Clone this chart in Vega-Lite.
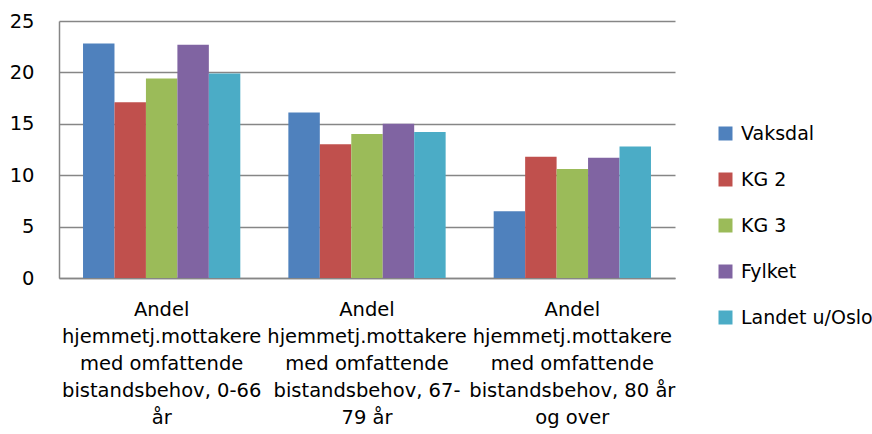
{
  "$schema": "https://vega.github.io/schema/vega-lite/v6.json",
  "width": 616,
  "height": 257,
  "autosize": {"type": "none"},
  "padding": {"left": 59, "top": 21, "right": 197, "bottom": 156},
  "background": "white",
  "config": {"view": {"stroke": null}, "font": "DejaVu Sans"},
  "data": {
    "values": [
      {"kategori": "Andel|hjemmetj.mottakere|med omfattende|bistandsbehov, 0-66|år", "serie": "Vaksdal", "verdi": 22.8},
      {"kategori": "Andel|hjemmetj.mottakere|med omfattende|bistandsbehov, 0-66|år", "serie": "KG 2", "verdi": 17.1},
      {"kategori": "Andel|hjemmetj.mottakere|med omfattende|bistandsbehov, 0-66|år", "serie": "KG 3", "verdi": 19.4},
      {"kategori": "Andel|hjemmetj.mottakere|med omfattende|bistandsbehov, 0-66|år", "serie": "Fylket", "verdi": 22.7},
      {"kategori": "Andel|hjemmetj.mottakere|med omfattende|bistandsbehov, 0-66|år", "serie": "Landet u/Oslo", "verdi": 19.9},
      {"kategori": "Andel|hjemmetj.mottakere|med omfattende|bistandsbehov, 67-|79 år", "serie": "Vaksdal", "verdi": 16.1},
      {"kategori": "Andel|hjemmetj.mottakere|med omfattende|bistandsbehov, 67-|79 år", "serie": "KG 2", "verdi": 13.0},
      {"kategori": "Andel|hjemmetj.mottakere|med omfattende|bistandsbehov, 67-|79 år", "serie": "KG 3", "verdi": 14.0},
      {"kategori": "Andel|hjemmetj.mottakere|med omfattende|bistandsbehov, 67-|79 år", "serie": "Fylket", "verdi": 15.0},
      {"kategori": "Andel|hjemmetj.mottakere|med omfattende|bistandsbehov, 67-|79 år", "serie": "Landet u/Oslo", "verdi": 14.2},
      {"kategori": "Andel|hjemmetj.mottakere|med omfattende|bistandsbehov, 80 år|og over", "serie": "Vaksdal", "verdi": 6.5},
      {"kategori": "Andel|hjemmetj.mottakere|med omfattende|bistandsbehov, 80 år|og over", "serie": "KG 2", "verdi": 11.8},
      {"kategori": "Andel|hjemmetj.mottakere|med omfattende|bistandsbehov, 80 år|og over", "serie": "KG 3", "verdi": 10.6},
      {"kategori": "Andel|hjemmetj.mottakere|med omfattende|bistandsbehov, 80 år|og over", "serie": "Fylket", "verdi": 11.7},
      {"kategori": "Andel|hjemmetj.mottakere|med omfattende|bistandsbehov, 80 år|og over", "serie": "Landet u/Oslo", "verdi": 12.8}
    ]
  },
  "mark": {"type": "bar"},
  "encoding": {
    "x": {
      "field": "kategori",
      "type": "nominal",
      "sort": null,
      "scale": {"paddingInner": 0.234, "paddingOuter": 0.117},
      "axis": {
        "title": null,
        "labelAngle": 0,
        "labelExpr": "split(datum.label, '|')",
        "labelFontSize": 19.5,
        "labelLineHeight": 27,
        "labelColor": "#000000",
        "labelLimit": 0,
        "labelPadding": 22,
        "labelBaseline": "top",
        "ticks": false,
        "domainColor": "#868686",
        "domainWidth": 1.5
      }
    },
    "xOffset": {
      "field": "serie",
      "type": "nominal",
      "sort": ["Vaksdal", "KG 2", "KG 3", "Fylket", "Landet u/Oslo"],
      "scale": {"paddingInner": 0, "paddingOuter": 0}
    },
    "y": {
      "field": "verdi",
      "type": "quantitative",
      "scale": {"domain": [0, 25], "nice": false},
      "axis": {
        "title": null,
        "values": [0, 5, 10, 15, 20, 25],
        "labelFontSize": 19.5,
        "labelColor": "#000000",
        "labelPadding": 25,
        "ticks": false,
        "domainColor": "#868686",
        "domainWidth": 1.5,
        "gridColor": "#868686",
        "gridWidth": 1.5
      }
    },
    "color": {
      "field": "serie",
      "type": "nominal",
      "scale": {
        "domain": ["Vaksdal", "KG 2", "KG 3", "Fylket", "Landet u/Oslo"],
        "range": ["#4F81BD", "#C0504D", "#9BBB59", "#8064A2", "#4BACC6"]
      },
      "legend": {
        "title": null,
        "orient": "none",
        "legendX": 657,
        "legendY": 103,
        "symbolType": "square",
        "symbolSize": 196,
        "symbolStrokeWidth": 0,
        "labelFontSize": 19,
        "labelColor": "#000000",
        "labelOffset": 6,
        "rowPadding": 26,
        "labelLimit": 0
      }
    }
  }
}
